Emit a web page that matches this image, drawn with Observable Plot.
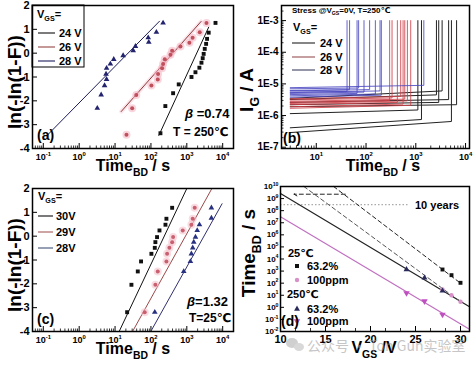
<!DOCTYPE html>
<html><head><meta charset="utf-8">
<script src="https://cdn.jsdelivr.net/npm/d3@7"></script>
<script src="https://cdn.jsdelivr.net/npm/@observablehq/plot@0.6"></script>
<style>
html,body{margin:0;padding:0;background:#fff;}
#root{position:relative;width:474px;height:366px;overflow:hidden;background:#fff;}
</style></head>
<body><div id="root"></div>
<script>
const FONT = '"Liberation Sans", Arial, "DejaVu Sans", sans-serif';
const CJK = '"Noto Sans CJK SC", "Liberation Sans", sans-serif';
const W = 237, H = 183;
const STYLE = {fontFamily: FONT, fontWeight: "bold", background: "transparent", overflow: "visible", color: "#000"};

// ---------- Panel (a): Weibull plot, T = 250 C ----------
const a24Time = [184, 252, 415, 595, 1350, 1740, 2240, 2560, 2770, 2950, 3160, 3450, 3670, 4070, 6300];
const a24Weib = [-3.36, -2.22, -1.68, -1.31, -1.0, -0.80, -0.61, -0.40, -0.21, -0.03, 0.18, 0.39, 0.60, 0.86, 1.27];
const a26Time = [20.8, 30, 39, 103, 155, 158, 205, 218, 243, 350, 390, 665, 1180, 1450, 2290, 3530];
const a26Weib = [-3.42, -2.31, -1.75, -1.36, -1.10, -0.87, -0.63, -0.45, -0.26, -0.07, 0.10, 0.28, 0.44, 0.65, 0.88, 1.27];
const a28Time = [3.2, 4.1, 5.1, 5.8, 5.6, 5.8, 7.4, 9.2, 16.8, 32, 37, 87, 84, 142, 218];
const a28Weib = [-2.31, -1.75, -1.36, -1.10, -0.88, -0.63, -0.45, -0.26, -0.10, 0.11, 0.29, 0.46, 0.65, 0.88, 1.27];
const aFit24Time = [166, 4070], aFit24Weib = [-3.45, 1.09];
const aFit26Time = [14.8, 2500], aFit26Weib = [-2.45, 1.33];
const aFit28Time = [0.128, 173], aFit28Weib = [-3.45, 1.34];

// ---------- Panel (c): Weibull plot, T = 25 C ----------
const c30Time = [21.7, 28.6, 43, 53, 103, 128, 133, 148, 173, 254, 270, 390];
const c30Weib = [-3.19, -2.04, -1.48, -1.06, -0.74, -0.49, -0.25, -0.04, 0.24, 0.48, 0.73, 1.19];
const c29Time = [67, 133, 155, 270, 282, 327, 390, 415, 770, 1340, 1460, 1660];
const c29Weib = [-3.19, -2.04, -1.48, -1.06, -0.74, -0.49, -0.25, -0.04, 0.24, 0.48, 0.73, 1.19];
const c28Time = [128, 820, 1260, 1340, 1460, 1560, 1740, 1950, 2250, 4840, 4840];
const c28Weib = [-3.19, -1.48, -1.06, -0.74, -0.49, -0.25, -0.04, 0.24, 0.48, 0.76, 1.19];
const cFit30Time = [13, 1000], cFit30Weib = [-4, 2];
const cFit29Time = [30.7, 5000], cFit29Weib = [-4, 2];
const cFit28Time = [99, 9600], cFit28Weib = [-4, 1.36];

// ---------- Panel (b): gate current traces ----------
const bT0 = 3, bTop = 1e-3;
const b28BD = [41.5, 46.7, 66, 71, 91, 118, 154, 191, 203, 1450];
const b28I0 = [5.5e-6, 6.2e-6, 4.6e-6, 7.0e-6, 5.0e-6, 6.0e-6, 4.2e-6, 5.3e-6, 3.8e-6, 7.6e-6];
const b28I1 = [5.8e-6, 6.6e-6, 5.0e-6, 7.4e-6, 5.5e-6, 6.6e-6, 4.8e-6, 6.0e-6, 4.4e-6, 9.0e-6];
const b26BD = [298, 333, 426, 497, 555, 600, 678, 790];
const b26I0 = [2.6e-6, 3.1e-6, 2.2e-6, 3.4e-6, 1.9e-6, 2.8e-6, 2.4e-6, 1.7e-6];
const b26I1 = [3.0e-6, 3.6e-6, 2.6e-6, 4.0e-6, 2.3e-6, 3.3e-6, 2.9e-6, 2.1e-6];
const b24BD = [1100, 1300, 2600, 2890, 3380, 4570, 5200, 6600];
const b24I0 = [1.15e-6, 4.1e-7, 3.2e-6, 2.2e-6, 3.5e-6, 2.6e-6, 2.9e-7, 1.9e-6];
const b24I1 = [1.5e-6, 7.5e-7, 4.5e-6, 2.6e-6, 6.0e-6, 3.2e-6, 6.5e-7, 2.2e-6];

// ---------- Panel (d): lifetime extrapolation ----------
const dV25 = [28, 29, 30];
const d25Char = [1350, 460, 107];
const d25Ppm = [30, 10, 2.9];
const dV250 = [24, 26, 28];
const d250Char = [1350, 275, 23];
const d250Ppm = [15, 3.2, 0.25];
const dFit250CharV = [10, 31], dFit250CharT = [2.6e9, 1.1];
const dFit250PpmV = [10, 31], dFit250PpmT = [3.1e7, 0.0155];
const dFit25CharV = [15.9, 30], dFit25CharT = [1e10, 100];
const dFit25PpmV = [12.6, 30], dFit25PpmT = [1e10, 2.9];
const dArrowV = [17.2, 11.5], dArrowT = 2.3e9;
const tenYears = 3.15e8, tenYearsV = [10, 24.3];

// tick values
const wXMajor = [0.1, 1, 10, 100, 1000, 10000];
const wYTicks = [-4, -3, -2, -1, 0, 1, 2];
const bXMajor = [10, 100, 1000, 10000];
const bYMajor = [1e-7, 1e-6, 1e-5, 1e-4, 1e-3];
const dXMajor = [10, 15, 20, 25, 30];
const dYTicks = [1e-2, 1e-1, 1, 1e1, 1e2, 1e3, 1e4, 1e5, 1e6, 1e7, 1e8, 1e9, 1e10];

// ---------- helpers ----------
const pts = (xs, ys) => xs.map((x, i) => ({x, y: ys[i]}));
const fmtPow = d => `10^{${Math.round(Math.log10(d))}}`;
function logMinor(lo, hi) {
  const out = [];
  for (let e = Math.floor(Math.log10(lo)); e <= Math.ceil(Math.log10(hi)); e++)
    for (let m = 2; m <= 9; m++) { const v = m * Math.pow(10, e); if (v > lo && v < hi) out.push(v); }
  return out;
}
function rich(t, str, size) {
  t.text(null);
  const re = /([_^~])\{([^}]*)\}/g;
  let last = 0, m, shift = 0;
  const parts = [];
  while ((m = re.exec(str))) {
    if (m.index > last) parts.push(["", str.slice(last, m.index)]);
    parts.push([m[1], m[2]]);
    last = re.lastIndex;
  }
  if (last < str.length) parts.push(["", str.slice(last)]);
  for (const [k, s] of parts) {
    const off = k === "_" ? 0.3 * size : k === "^" ? -0.42 * size : 0;
    const ts = t.append("tspan").text(s).attr("dy", off - shift);
    shift = off;
    if (k === "_" || k === "^") ts.attr("font-size", 0.65 * size);
    if (k === "~") ts.attr("font-style", "italic");
  }
}
function addText(svg, x, y, str, o = {}) {
  const size = o.size || 11;
  const t = d3.select(svg).append("text")
    .attr("x", x).attr("y", y)
    .attr("font-size", size).attr("font-weight", o.weight || "bold")
    .attr("font-family", o.family || FONT)
    .attr("fill", o.fill || "#000")
    .attr("text-anchor", o.anchor || "start");
  if (o.rotate) t.attr("transform", `rotate(${o.rotate},${x},${y})`);
  if (o.opacity) t.attr("opacity", o.opacity);
  rich(t, str, size);
  return t;
}
function fixTicks(svg, size) {
  d3.select(svg).selectAll("text").each(function () {
    const s = this.textContent;
    if (/[_^]\{/.test(s)) rich(d3.select(this), s, size);
  });
}
function legendLine(svg, x1, x2, y, color) {
  d3.select(svg).append("line").attr("x1", x1).attr("x2", x2).attr("y1", y).attr("y2", y)
    .attr("stroke", color).attr("stroke-width", 1.2);
}
function legendSym(svg, x, y, type, size, fill, rot = 0) {
  d3.select(svg).append("path").attr("d", d3.symbol(type, size)())
    .attr("transform", `translate(${x},${y}) rotate(${rot})`).attr("fill", fill);
}
const root = document.getElementById("root");
function place(svg, left, top) {
  const d = document.createElement("div");
  d.style.cssText = `position:absolute;left:${left}px;top:${top}px;width:${W}px;height:${H}px;`;
  d.appendChild(svg);
  root.appendChild(d);
}

function weibullPlot(series, fits) {
  const mL = 32, mR = 4, mT = 5, mB = 35;
  const iW = W - mL - mR, iH = H - mT - mB;
  const marks = [
    Plot.tickX(logMinor(0.05, 20000), {x: d => d, insetTop: iH - 2.5, strokeWidth: 0.8}),
    Plot.tickX(wXMajor, {x: d => d, insetTop: iH - 5}),
    Plot.tickY(wYTicks, {y: d => d, insetRight: iW - 5}),
    Plot.axisX({ticks: wXMajor, tickSize: 0, tickPadding: 5, tickFormat: fmtPow, fontSize: 9, label: null}),
    Plot.axisY({ticks: wYTicks, tickSize: 0, tickPadding: 3, tickFormat: d => String(d), fontSize: 11, label: null})
  ];
  for (const f of fits) {
    if (f.halo) marks.push(Plot.line(pts(f.t, f.v), {x: "x", y: "y", stroke: f.halo, strokeWidth: 4, strokeOpacity: 0.35}));
    marks.push(Plot.line(pts(f.t, f.v), {x: "x", y: "y", stroke: f.color, strokeWidth: 1}));
  }
  for (const s of series) {
    if (s.halo) marks.push(Plot.dot(pts(s.t, s.v), {x: "x", y: "y", r: 4, fill: s.halo, fillOpacity: 0.55}));
    marks.push(Plot.dot(pts(s.t, s.v), {x: "x", y: "y", symbol: s.symbol, r: s.r, fill: s.color}));
  }
  marks.push(Plot.frame({strokeWidth: 1.5}));
  return Plot.plot({
    width: W, height: H, marginLeft: mL, marginRight: mR, marginTop: mT, marginBottom: mB, style: STYLE,
    x: {type: "log", domain: [0.05, 20000]}, y: {domain: [-4, 2]}, marks
  });
}

// ---------- (a) ----------
const svgA = weibullPlot([
  {t: a24Time, v: a24Weib, symbol: "square", r: 2.2, color: "#111"},
  {t: a26Time, v: a26Weib, symbol: "circle", r: 2, color: "#c0505c", halo: "#f4b3c2"},
  {t: a28Time, v: a28Weib, symbol: "triangle", r: 2.1, color: "#23236e"}
], [
  {t: aFit24Time, v: aFit24Weib, color: "#111"},
  {t: aFit26Time, v: aFit26Weib, color: "#8a3a3a", halo: "#f4b3c2"},
  {t: aFit28Time, v: aFit28Weib, color: "#1c1c5a"}
]);
fixTicks(svgA, 9);
d3.select(svgA).append("rect").attr("x", 32).attr("y", 5).attr("width", 52).attr("height", 62)
  .attr("fill", "none").attr("stroke", "#000").attr("stroke-width", 1);
addText(svgA, 37, 18, "V_{GS}=", {size: 11});
legendLine(svgA, 38, 55, 33, "#222"); addText(svgA, 59, 37, "24 V", {size: 11});
legendLine(svgA, 38, 55, 47, "#a05555"); addText(svgA, 59, 51, "26 V", {size: 11});
legendLine(svgA, 38, 55, 61, "#30306a"); addText(svgA, 59, 65, "28 V", {size: 11});
addText(svgA, 21, 82, "ln(-ln(1-F))", {size: 19, anchor: "middle", rotate: -90});
addText(svgA, 133, 171, "Time_{BD} / s", {size: 16, anchor: "middle"});
addText(svgA, 185, 118, "~{β} =0.74", {size: 13});
addText(svgA, 173, 136, "T = 250℃", {size: 12});
addText(svgA, 37, 140, "(a)", {size: 14});
place(svgA, 0, 0);

// ---------- (b) ----------
function curveRows(bd, i0, i1) {
  const rows = [];
  bd.forEach((t, k) => { rows.push({id: k, t: bT0, i: i0[k]}, {id: k, t, i: i1[k]}, {id: k, t, i: bTop}); });
  return rows;
}
{
  const mL = 44, mR = 5, mT = 5, mB = 35;
  const iW = W - mL - mR, iH = H - mT - mB;
  var svgB = Plot.plot({
    width: W, height: H, marginLeft: mL, marginRight: mR, marginTop: mT, marginBottom: mB, style: STYLE,
    x: {type: "log", domain: [2, 12000]}, y: {type: "log", domain: [9.1e-8, 3e-3]},
    marks: [
      Plot.tickX(logMinor(2, 12000), {x: d => d, insetTop: iH - 2.5, strokeWidth: 0.8}),
      Plot.tickX(bXMajor, {x: d => d, insetTop: iH - 5}),
      Plot.tickY(logMinor(9.1e-8, 3e-3), {y: d => d, insetRight: iW - 2.5, strokeWidth: 0.8}),
      Plot.tickY(bYMajor, {y: d => d, insetRight: iW - 5}),
      Plot.axisX({ticks: bXMajor, tickSize: 0, tickPadding: 5, tickFormat: fmtPow, fontSize: 9, label: null}),
      Plot.axisY({ticks: bYMajor, tickSize: 0, tickPadding: 3, tickFormat: d => "1E" + Math.round(Math.log10(d)), fontSize: 10, label: null}),
      Plot.line(curveRows(b24BD, b24I0, b24I1), {x: "t", y: "i", z: "id", stroke: "#222", strokeWidth: 1}),
      Plot.line(curveRows(b26BD, b26I0, b26I1), {x: "t", y: "i", z: "id", stroke: "#d04048", strokeWidth: 1, strokeOpacity: 0.85}),
      Plot.line(curveRows(b28BD, b28I0, b28I1), {x: "t", y: "i", z: "id", stroke: "#4a48c0", strokeWidth: 1, strokeOpacity: 0.85}),
      Plot.frame({strokeWidth: 1.5})
    ]
  });
}
fixTicks(svgB, 9);
addText(svgB, 55, 13, "Stress @V_{GS}=0V, T=250℃", {size: 8});
addText(svgB, 56, 31, "V_{GS}=", {size: 11});
legendLine(svgB, 55, 78, 43, "#333"); addText(svgB, 83, 47, "24 V", {size: 11});
legendLine(svgB, 55, 78, 57, "#a06060"); addText(svgB, 83, 61, "26 V", {size: 11});
legendLine(svgB, 55, 78, 70, "#505070"); addText(svgB, 83, 74, "28 V", {size: 11});
addText(svgB, 16, 90, "I_{G} / A", {size: 19, anchor: "middle", rotate: -90});
addText(svgB, 146, 171, "Time_{BD} / s", {size: 16, anchor: "middle"});
addText(svgB, 46, 143, "(b)", {size: 14});
place(svgB, 237, 0);

// ---------- (c) ----------
const svgC = weibullPlot([
  {t: c30Time, v: c30Weib, symbol: "square", r: 2.2, color: "#111"},
  {t: c29Time, v: c29Weib, symbol: "circle", r: 2, color: "#c86070", halo: "#f4bfcb"},
  {t: c28Time, v: c28Weib, symbol: "triangle", r: 2.1, color: "#283080"}
], [
  {t: cFit30Time, v: cFit30Weib, color: "#111"},
  {t: cFit29Time, v: cFit29Weib, color: "#9a4848"},
  {t: cFit28Time, v: cFit28Weib, color: "#303070"}
]);
fixTicks(svgC, 9);
addText(svgC, 38, 17, "V_{GS}=", {size: 11});
legendLine(svgC, 38, 53, 33, "#222"); addText(svgC, 56, 37, "30V", {size: 11});
legendLine(svgC, 38, 53, 49, "#b06868"); addText(svgC, 56, 53, "29V", {size: 11});
legendLine(svgC, 38, 53, 65, "#506080"); addText(svgC, 56, 69, "28V", {size: 11});
addText(svgC, 21, 82, "ln(-ln(1-F))", {size: 19, anchor: "middle", rotate: -90});
addText(svgC, 133, 171, "Time_{BD} / s", {size: 16, anchor: "middle"});
addText(svgC, 187, 123, "~{β}=1.32", {size: 13});
addText(svgC, 189, 139, "T=25℃", {size: 12});
addText(svgC, 37, 141, "(c)", {size: 14});
place(svgC, 0, 183);

// ---------- (d) ----------
{
  const mL = 43, mR = 5, mT = 3, mB = 35;
  const iW = W - mL - mR, iH = H - mT - mB;
  const dXMinor = d3.range(10, 31, 5 / 3);
  var svgD = Plot.plot({
    width: W, height: H, marginLeft: mL, marginRight: mR, marginTop: mT, marginBottom: mB, style: STYLE,
    x: {domain: [10, 31]}, y: {type: "log", domain: [0.01, 1e10]},
    marks: [
      Plot.tickX(dXMinor, {x: d => d, insetTop: iH - 3, strokeWidth: 0.8}),
      Plot.tickX(dXMajor, {x: d => d, insetTop: iH - 5}),
      Plot.tickY(dYTicks, {y: d => d, insetRight: iW - 4}),
      Plot.axisX({ticks: dXMajor, tickSize: 0, tickPadding: 4, tickFormat: d => String(d), fontSize: 11, label: null}),
      Plot.axisY({ticks: dYTicks, tickSize: 0, tickPadding: 2, tickFormat: fmtPow, fontSize: 8, label: null}),
      Plot.ruleY([{y: tenYears, x1: tenYearsV[0], x2: tenYearsV[1]}], {y: "y", x1: "x1", x2: "x2", stroke: "#aaa", strokeWidth: 1.2, strokeDasharray: "1.5,2"}),
      Plot.line(pts(dFit250PpmV, dFit250PpmT), {x: "x", y: "y", stroke: "#c070c0", strokeWidth: 1.2}),
      Plot.line(pts(dFit250CharV, dFit250CharT), {x: "x", y: "y", stroke: "#222", strokeWidth: 1.2}),
      Plot.line(pts(dFit25CharV, dFit25CharT), {x: "x", y: "y", stroke: "#222", strokeWidth: 1, strokeDasharray: "4,3"}),
      Plot.line(pts(dFit25PpmV, dFit25PpmT), {x: "x", y: "y", stroke: "#555", strokeWidth: 1, strokeDasharray: "4,3"}),
      Plot.arrow([{x1: dArrowV[0], x2: dArrowV[1], y: dArrowT}], {x1: "x1", x2: "x2", y1: "y", y2: "y", stroke: "#222", strokeWidth: 1, strokeDasharray: "4,3", headLength: 5}),
      Plot.dot(pts(dV25, d25Char), {x: "x", y: "y", symbol: "square", r: 2.2, fill: "#111"}),
      Plot.dot(pts(dV25, d25Ppm), {x: "x", y: "y", symbol: "circle", r: 2.2, fill: "#d890c8"}),
      Plot.dot(pts(dV250, d250Char), {x: "x", y: "y", symbol: "triangle", r: 2.2, fill: "#2a2a5a"}),
      Plot.dot(pts(dV250, d250Ppm), {x: "x", y: "y", symbol: "triangle", r: 2.4, rotate: 180, fill: "#c050c0"}),
      Plot.frame({strokeWidth: 1.5})
    ]
  });
}
fixTicks(svgD, 8);
addText(svgD, 178, 26, "10 years", {size: 11});
addText(svgD, 51, 74, "25℃", {size: 11});
legendSym(svgD, 60, 83, d3.symbolSquare, 16, "#111"); addText(svgD, 70, 87, "63.2%", {size: 11});
legendSym(svgD, 60, 97, d3.symbolCircle, 15, "#d890c8"); addText(svgD, 70, 101, "100ppm", {size: 11});
addText(svgD, 50, 115, "250℃", {size: 11});
legendSym(svgD, 60, 126, d3.symbolTriangle, 15, "#2a2a5a"); addText(svgD, 70, 130, "63.2%", {size: 11});
legendSym(svgD, 60, 138, d3.symbolTriangle, 18, "#c050c0", 180); addText(svgD, 70, 142, "100ppm", {size: 11});
addText(svgD, 44, 143, "(d)", {size: 14});
addText(svgD, 18, 70, "Time_{BD} / s", {size: 19, anchor: "middle", rotate: -90});
addText(svgD, 137, 170, "V_{GS} /V", {size: 16, anchor: "middle"});
// watermark overlay
{
  const g = d3.select(svgD).append("g").attr("opacity", 0.45);
  g.append("ellipse").attr("cx", 55).attr("cy", 160).attr("rx", 6).attr("ry", 5).attr("fill", "#999");
  g.append("ellipse").attr("cx", 62).attr("cy", 164).attr("rx", 5).attr("ry", 4).attr("fill", "#aaa");
}
addText(svgD, 70, 168, "公众号 · Ton Gun实验室", {size: 14, weight: "normal", family: CJK, fill: "#999", opacity: 0.55});
place(svgD, 237, 183);
</script></body></html>
